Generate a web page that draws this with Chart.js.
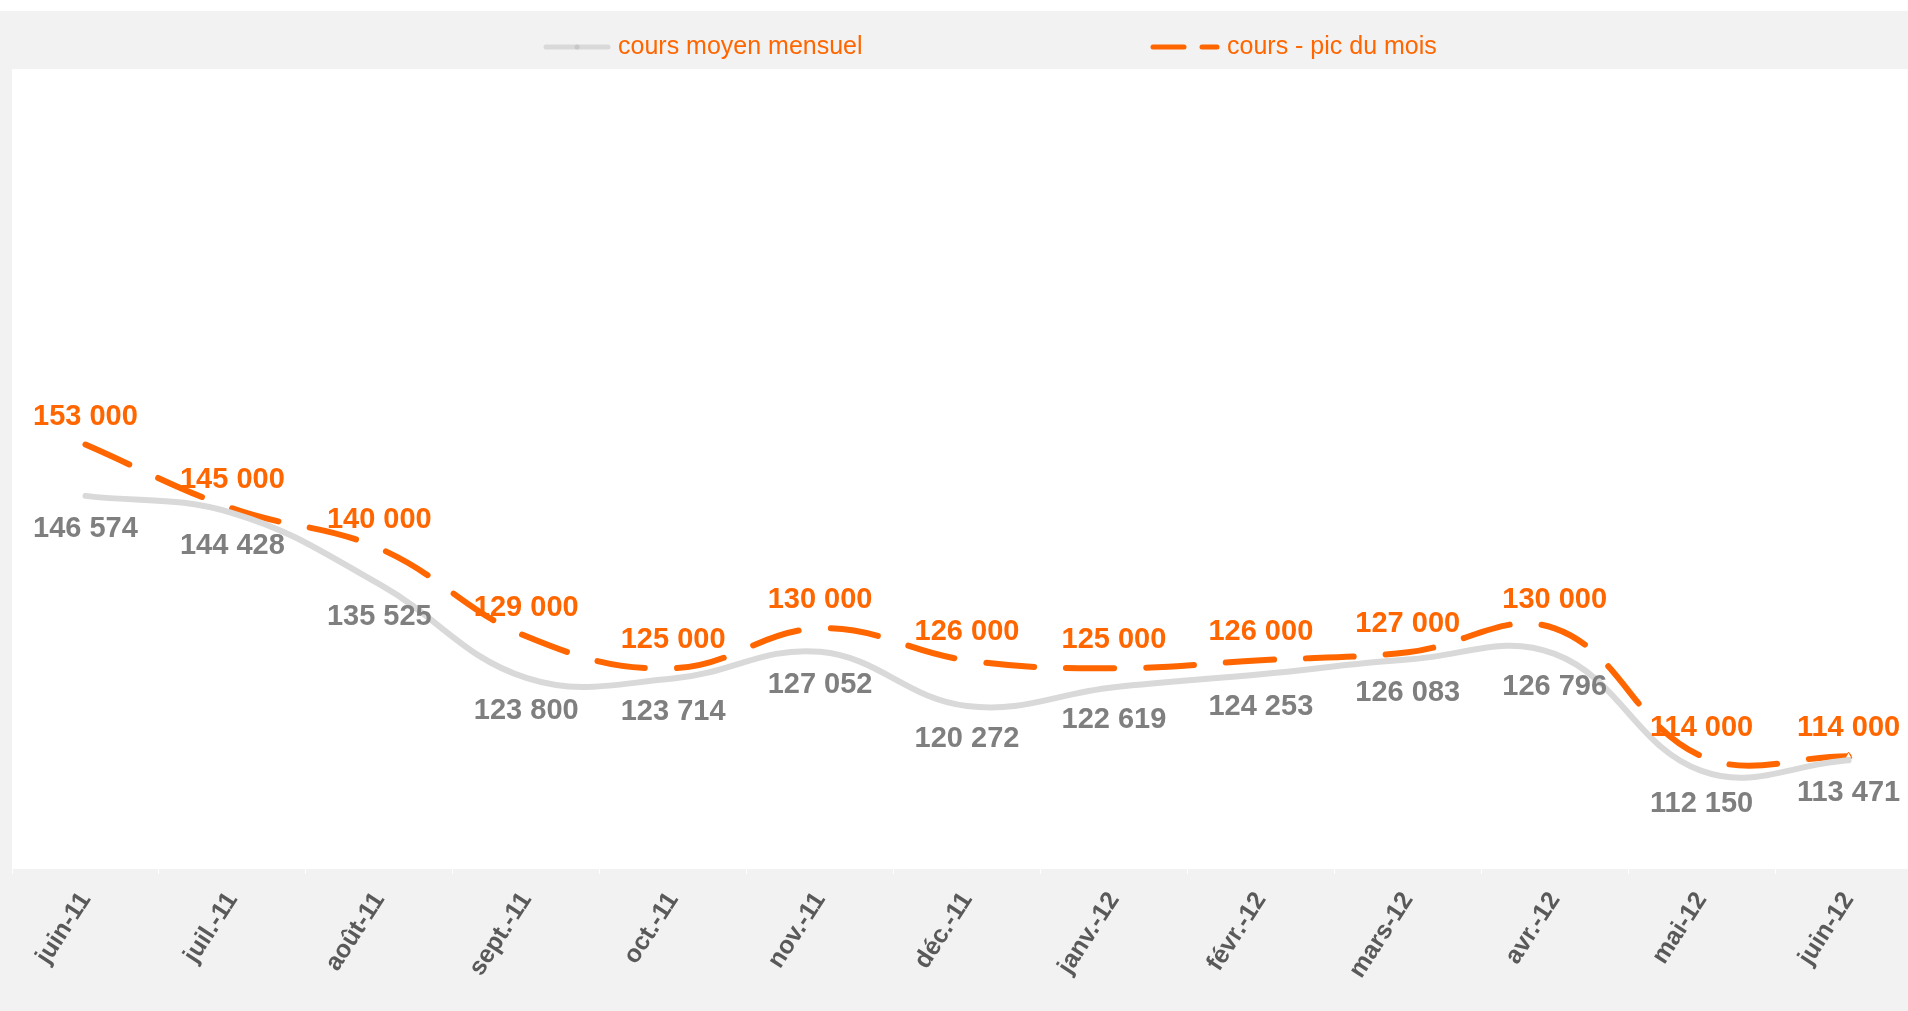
<!DOCTYPE html>
<html>
<head>
<meta charset="utf-8">
<script src="https://cdn.jsdelivr.net/npm/chart.js@4.4.1/dist/chart.umd.min.js"></script>
<style>
  html, body { margin: 0; padding: 0; background: #fff; overflow: hidden; }
  #wrap { position: absolute; left: 0; top: 11px; width: 1927px; height: 1000px; }
</style>
</head>
<body>
<div id="wrap"><canvas id="chart" width="1927" height="1000"></canvas></div>
<script>
// Data
const months = ["juin-11", "juil.-11", "août-11", "sept.-11", "oct.-11", "nov.-11", "déc.-11",
                "janv.-12", "févr.-12", "mars-12", "avr.-12", "mai-12", "juin-12"];
const coursMoyen = [146574, 144428, 135525, 123800, 123714, 127052, 120272,
                    122619, 124253, 126083, 126796, 112150, 113471];
const coursPic = [153000, 145000, 140000, 129000, 125000, 130000, 126000,
                  125000, 126000, 127000, 130000, 114000, 114000];
const seriesNames = ["cours moyen mensuel", "cours - pic du mois"];

const ORANGE = "#ff6600";
const GREY_LINE = "#d9d9d9";
const GREY_TEXT = "#7f7f7f";
const FONT = "'Liberation Sans', Arial, sans-serif";

// french thousands: 146 574
function fmt(v) {
    return String(v).replace(/\B(?=(\d{3})+(?!\d))/g, " ");
}

const backgroundPlugin = {
    id: "bg",
    beforeDraw(chart) {
        const ctx = chart.ctx, a = chart.chartArea;
        ctx.save();
        ctx.fillStyle = "#f2f2f2";
        ctx.fillRect(0, 0, chart.width, chart.height);
        ctx.fillStyle = "#ffffff";
        ctx.fillRect(a.left, a.top, a.right - a.left, a.bottom - a.top);
        ctx.restore();
    }
};

const labelsPlugin = {
    id: "valueLabels",
    afterDatasetsDraw(chart) {
        const ctx = chart.ctx;
        ctx.save();
        ctx.font = "bold 29px " + FONT;
        ctx.textAlign = "center";
        ctx.textBaseline = "middle";
        chart.data.datasets.forEach((ds, i) => {
            const meta = chart.getDatasetMeta(i);
            meta.data.forEach((pt, j) => {
                if (i === 0) {
                    ctx.fillStyle = GREY_TEXT;
                    ctx.fillText(fmt(ds.data[j]), pt.x, pt.y + 33);
                } else {
                    ctx.fillStyle = ORANGE;
                    ctx.fillText(fmt(ds.data[j]), pt.x, pt.y - 28);
                }
            });
        });
        ctx.restore();
    }
};

const legendPlugin = {
    id: "customLegend",
    afterDraw(chart) {
        const ctx = chart.ctx;
        const y = 36;
        ctx.save();
        ctx.lineCap = "round";
        // grey series symbol
        ctx.strokeStyle = GREY_LINE;
        ctx.lineWidth = 5;
        ctx.beginPath(); ctx.moveTo(546, y); ctx.lineTo(608, y); ctx.stroke();
        ctx.fillStyle = "#c8c8c8";
        ctx.beginPath(); ctx.arc(577, y, 2.5, 0, Math.PI * 2); ctx.fill();
        // orange series symbol
        ctx.strokeStyle = ORANGE;
        ctx.beginPath(); ctx.moveTo(1153, y); ctx.lineTo(1184, y); ctx.stroke();
        ctx.beginPath(); ctx.moveTo(1202, y); ctx.lineTo(1217, y); ctx.stroke();

        ctx.fillStyle = ORANGE;
        ctx.font = "25px " + FONT;
        ctx.textAlign = "left";
        ctx.textBaseline = "middle";
        ctx.fillText(seriesNames[0], 618, y);
        ctx.fillText(seriesNames[1], 1227, y);
        ctx.restore();
    }
};

new Chart(document.getElementById("chart"), {
    type: "line",
    data: {
        labels: months,
        datasets: [
            {
                label: seriesNames[0],
                data: coursMoyen,
                borderColor: GREY_LINE,
                borderWidth: 6,
                borderCapStyle: "round",
                tension: 0.4,
                pointRadius: 0
            },
            {
                label: seriesNames[1],
                data: coursPic,
                borderColor: ORANGE,
                borderWidth: 6,
                borderDash: [48, 32],
                borderCapStyle: "round",
                tension: 0.4,
                pointStyle: "triangle",
                pointRadius: coursPic.map((v, i) => i === coursPic.length - 1 ? 4 : 0),
                pointBorderWidth: 1,
                pointBorderColor: ORANGE,
                pointBackgroundColor: "#ffffff"
            }
        ]
    },
    options: {
        responsive: false,
        animation: false,
        layout: { padding: { top: 58, left: 12, right: 0, bottom: 0 } },
        plugins: {
            legend: { display: false },
            tooltip: { enabled: false }
        },
        scales: {
            x: {
                offset: true,
                grid: {
                    offset: true,
                    drawOnChartArea: false,
                    color: "#ffffff",
                    tickLength: 6
                },
                border: { display: true, color: "#ffffff" },
                ticks: {
                    color: "#595959",
                    font: { family: FONT, size: 25, weight: "bold" },
                    minRotation: 57,
                    maxRotation: 57,
                    padding: 13
                },
                afterFit(scale) { scale.height = 143; }
            },
            y: {
                display: false,
                min: 100000,
                max: 200000
            }
        }
    },
    plugins: [backgroundPlugin, labelsPlugin, legendPlugin]
});
</script>
</body>
</html>
